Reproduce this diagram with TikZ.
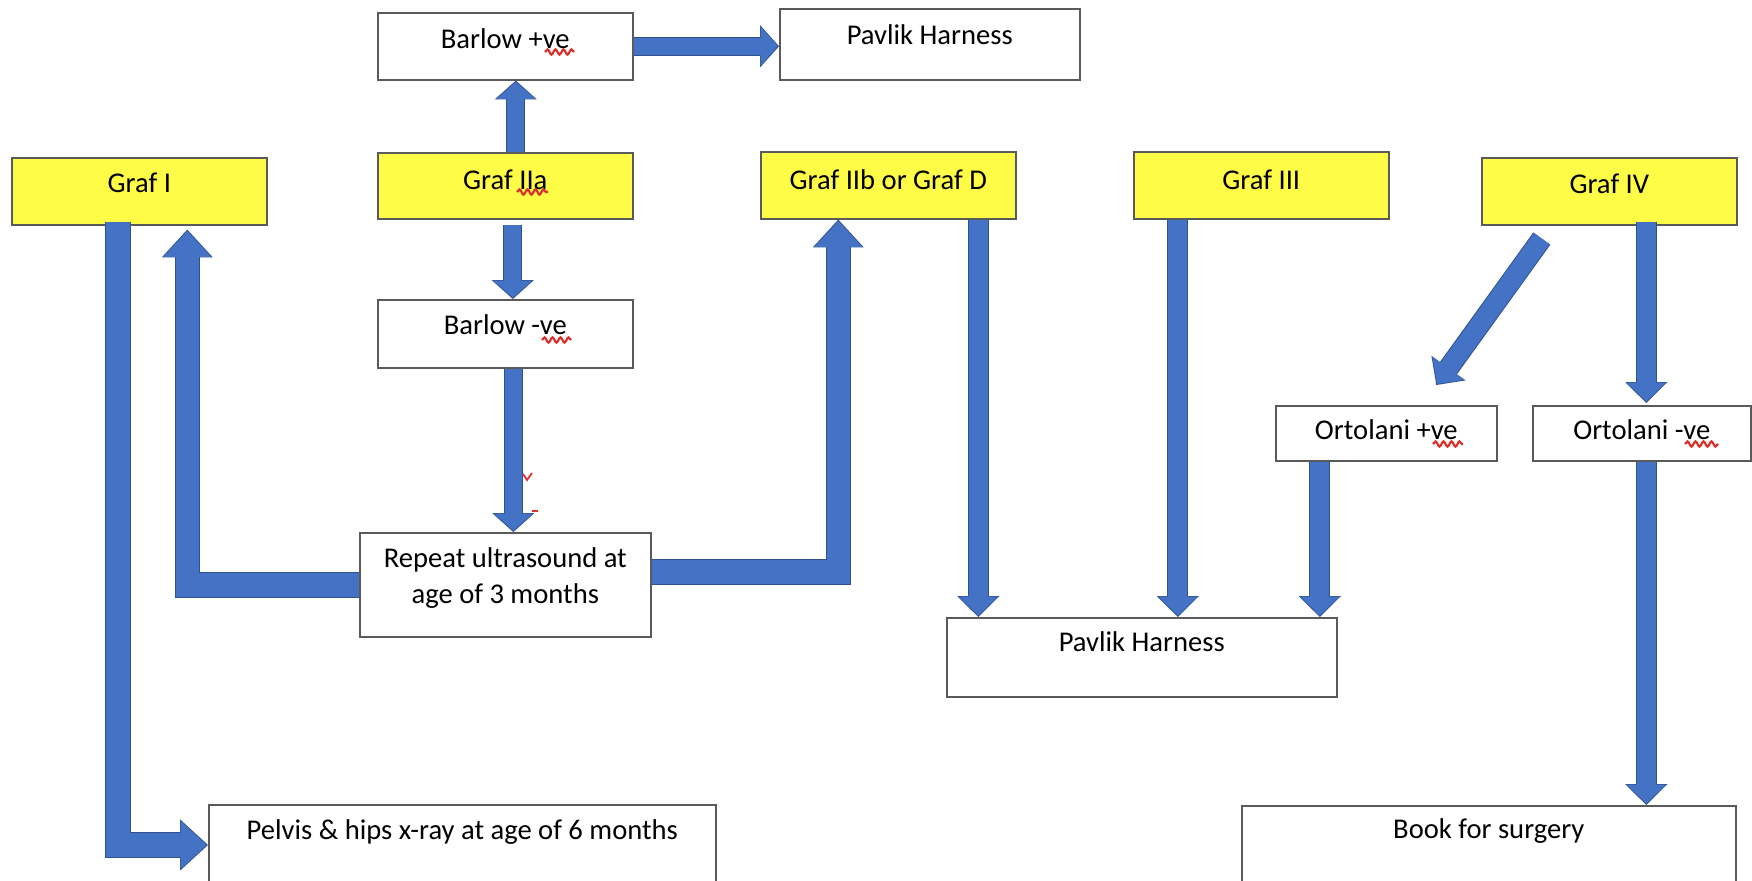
\documentclass[tikz,border=0pt]{standalone}
\usepackage{fontspec}
\setmainfont{Carlito}
\usetikzlibrary{arrows.meta,calc,decorations.pathmorphing}
\definecolor{arrowblue}{RGB}{68,114,196}
\definecolor{arrowedge}{RGB}{47,82,143}
\definecolor{grafyellow}{RGB}{255,252,72}
\definecolor{boxline}{RGB}{90,90,90}
\definecolor{squigred}{RGB}{220,50,45}
\tikzset{
  box/.style={draw=boxline, line width=0.8pt, fill=white, inner sep=0pt, anchor=north west},
  graf/.style={box, fill=grafyellow},
  arrS/.style={draw=arrowblue, line width=8.5pt, shorten >=0.7pt,
    -{Triangle[width=19.5pt,length=8.5pt,line width=0pt]},
    preaction={draw=arrowedge, line width=9.5pt, shorten >=0pt,
      -{Triangle[width=21pt,length=9.4pt,line width=0pt]}}},
  arrM/.style={draw=arrowblue, line width=9.5pt, shorten >=0.7pt,
    -{Triangle[width=19.5pt,length=9.5pt,line width=0pt]},
    preaction={draw=arrowedge, line width=10.5pt, shorten >=0pt,
      -{Triangle[width=21pt,length=10.4pt,line width=0pt]}}},
  arrL/.style={draw=arrowblue, line width=11.8pt, shorten >=0.7pt,
    -{Triangle[width=24pt,length=13pt,line width=0pt]},
    preaction={draw=arrowedge, line width=12.8pt, shorten >=0pt,
      -{Triangle[width=25.5pt,length=13.9pt,line width=0pt]}}},
  squig/.style={draw=squigred, line width=1.1pt, decorate,
    decoration={snake, segment length=4pt, amplitude=1.3pt}}
}
\begin{document}
\begin{tikzpicture}[x=0.5pt,y=-0.5pt,font=\fontsize{14.3pt}{18pt}\selectfont]
\useasboundingbox (0,0) rectangle (1752,881);
\fill[white] (0,0) rectangle (1752,881);
\clip (0,0) rectangle (1752,881);

% boxes
\node[box, minimum width=127.5pt, minimum height=33.5pt, text height=18pt, text depth=15.5pt] (bp) at (377,12) {Barlow +ve};
\node[box, minimum width=150pt, minimum height=35.5pt, text height=17.75pt, text depth=17.75pt] (pt) at (779,8) {Pavlik Harness};
\node[graf, minimum width=127.5pt, minimum height=33.5pt, text height=17.5pt, text depth=16pt] (gi) at (11,157) {Graf I};
\node[graf, minimum width=127.5pt, minimum height=33pt, text height=18.5pt, text depth=14.5pt] (ga) at (377,152) {Graf IIa};
\node[graf, minimum width=127.5pt, minimum height=33.5pt, text height=19pt, text depth=14.5pt] (gb) at (760,151) {Graf IIb or Graf D};
\node[graf, minimum width=127.5pt, minimum height=33.5pt, text height=19pt, text depth=14.5pt] (g3) at (1133,151) {Graf III};
\node[graf, minimum width=127.5pt, minimum height=33.5pt, text height=18pt, text depth=15.5pt] (g4) at (1481,157) {Graf IV};
\node[box, minimum width=127.5pt, minimum height=34pt, text height=17.5pt, text depth=16.5pt] (bm) at (377,299) {Barlow -ve};
\node[box, minimum width=145.5pt, minimum height=52pt, text height=17.5pt, text depth=34.5pt] (rep) at (359,532)
  {\begin{tabular}[t]{@{}c@{}}Repeat ultrasound at\\age of 3 months\end{tabular}};
\node[box, minimum width=253.5pt, minimum height=60pt, text height=17.5pt, text depth=42.5pt] (pel) at (208,804) {Pelvis \& hips x-ray at age of 6 months};
\node[box, minimum width=195pt, minimum height=39.5pt, text height=17pt, text depth=22.5pt] (pb) at (946,617) {Pavlik Harness};
\node[box, minimum width=110.5pt, minimum height=27.5pt, text height=17pt, text depth=10.5pt] (op) at (1275,405) {Ortolani +ve};
\node[box, minimum width=109pt, minimum height=27.5pt, text height=17pt, text depth=10.5pt] (om) at (1532,405) {Ortolani -ve};
\node[box, minimum width=247pt, minimum height=60pt, text height=16.5pt, text depth=43.5pt] (bs) at (1241,805) {Book for surgery};

% helper coordinates
\coordinate (c1) at ($(ga.north)+(10.5,0)$);
\coordinate (c3) at ($(ga.south)+(7.5,5)$);
\coordinate (c4) at ($(bm.south)+(8,0)$);
\coordinate (c5) at ($(gi.south)+(-21.5,-4)$);
\coordinate (c5e) at ($(pel.north west)+(0,41)$);
\coordinate (c6) at ($(gi.south)+(48,4)$);
\coordinate (c7) at ($(rep.east)+(0,-13)$);
\coordinate (c7e) at ($(gb.south)+(-50,0)$);
\coordinate (c8) at ($(gb.south)+(90,0)$);
\coordinate (c9) at ($(g3.south)+(-83.5,0)$);
\coordinate (c10) at ($(op.south)+(-66.5,0)$);
\coordinate (c11) at ($(g4.south)+(37,-4)$);
\coordinate (c12) at ($(g4.south)+(-67.5,13)$);
\coordinate (c12e) at ($(op.north)+(50,-20)$);
\coordinate (c13) at ($(om.south)+(4.5,0)$);

% connectors
\draw[arrS] (c1) -- (c1 |- bp.south);
\draw[arrS] (bp.east) -- (bp.east -| pt.west);
\draw[arrS] (c3) -- (c3 |- bm.north);
\draw[arrS] (c4) -- (c4 |- rep.north);
\draw[arrL] (c5) |- (c5e);
\draw[arrL] (rep.west) -| (c6);
\draw[arrL] (c7) -| (c7e);
\draw[arrM] (c8) -- (c8 |- pb.north);
\draw[arrM] (c9) -- (c9 |- pb.north);
\draw[arrM] (c10) -- (c10 |- pb.north);
\draw[arrM] (c11) -- ($(c11 |- om.north)+(0,-2)$);
\draw[arrM] (c12) -- (c12e);
\draw[arrM] (c13) -- (c13 |- bs.north);

% spell-check marks
\draw[squig] (545,52) -- (574,52);
\draw[squig] (517,192) -- (548,192);
\draw[squig] (542,340) -- (571,340);
\draw[squig] (1433,444) -- (1463,444);
\draw[squig] (1685,444) -- (1718,444);
\draw[squigred, line width=0.9pt] (523,474) -- (527,480) -- (532,473);
\draw[squigred, line width=0.9pt] (532,511) -- (538,511);
\end{tikzpicture}
\end{document}
